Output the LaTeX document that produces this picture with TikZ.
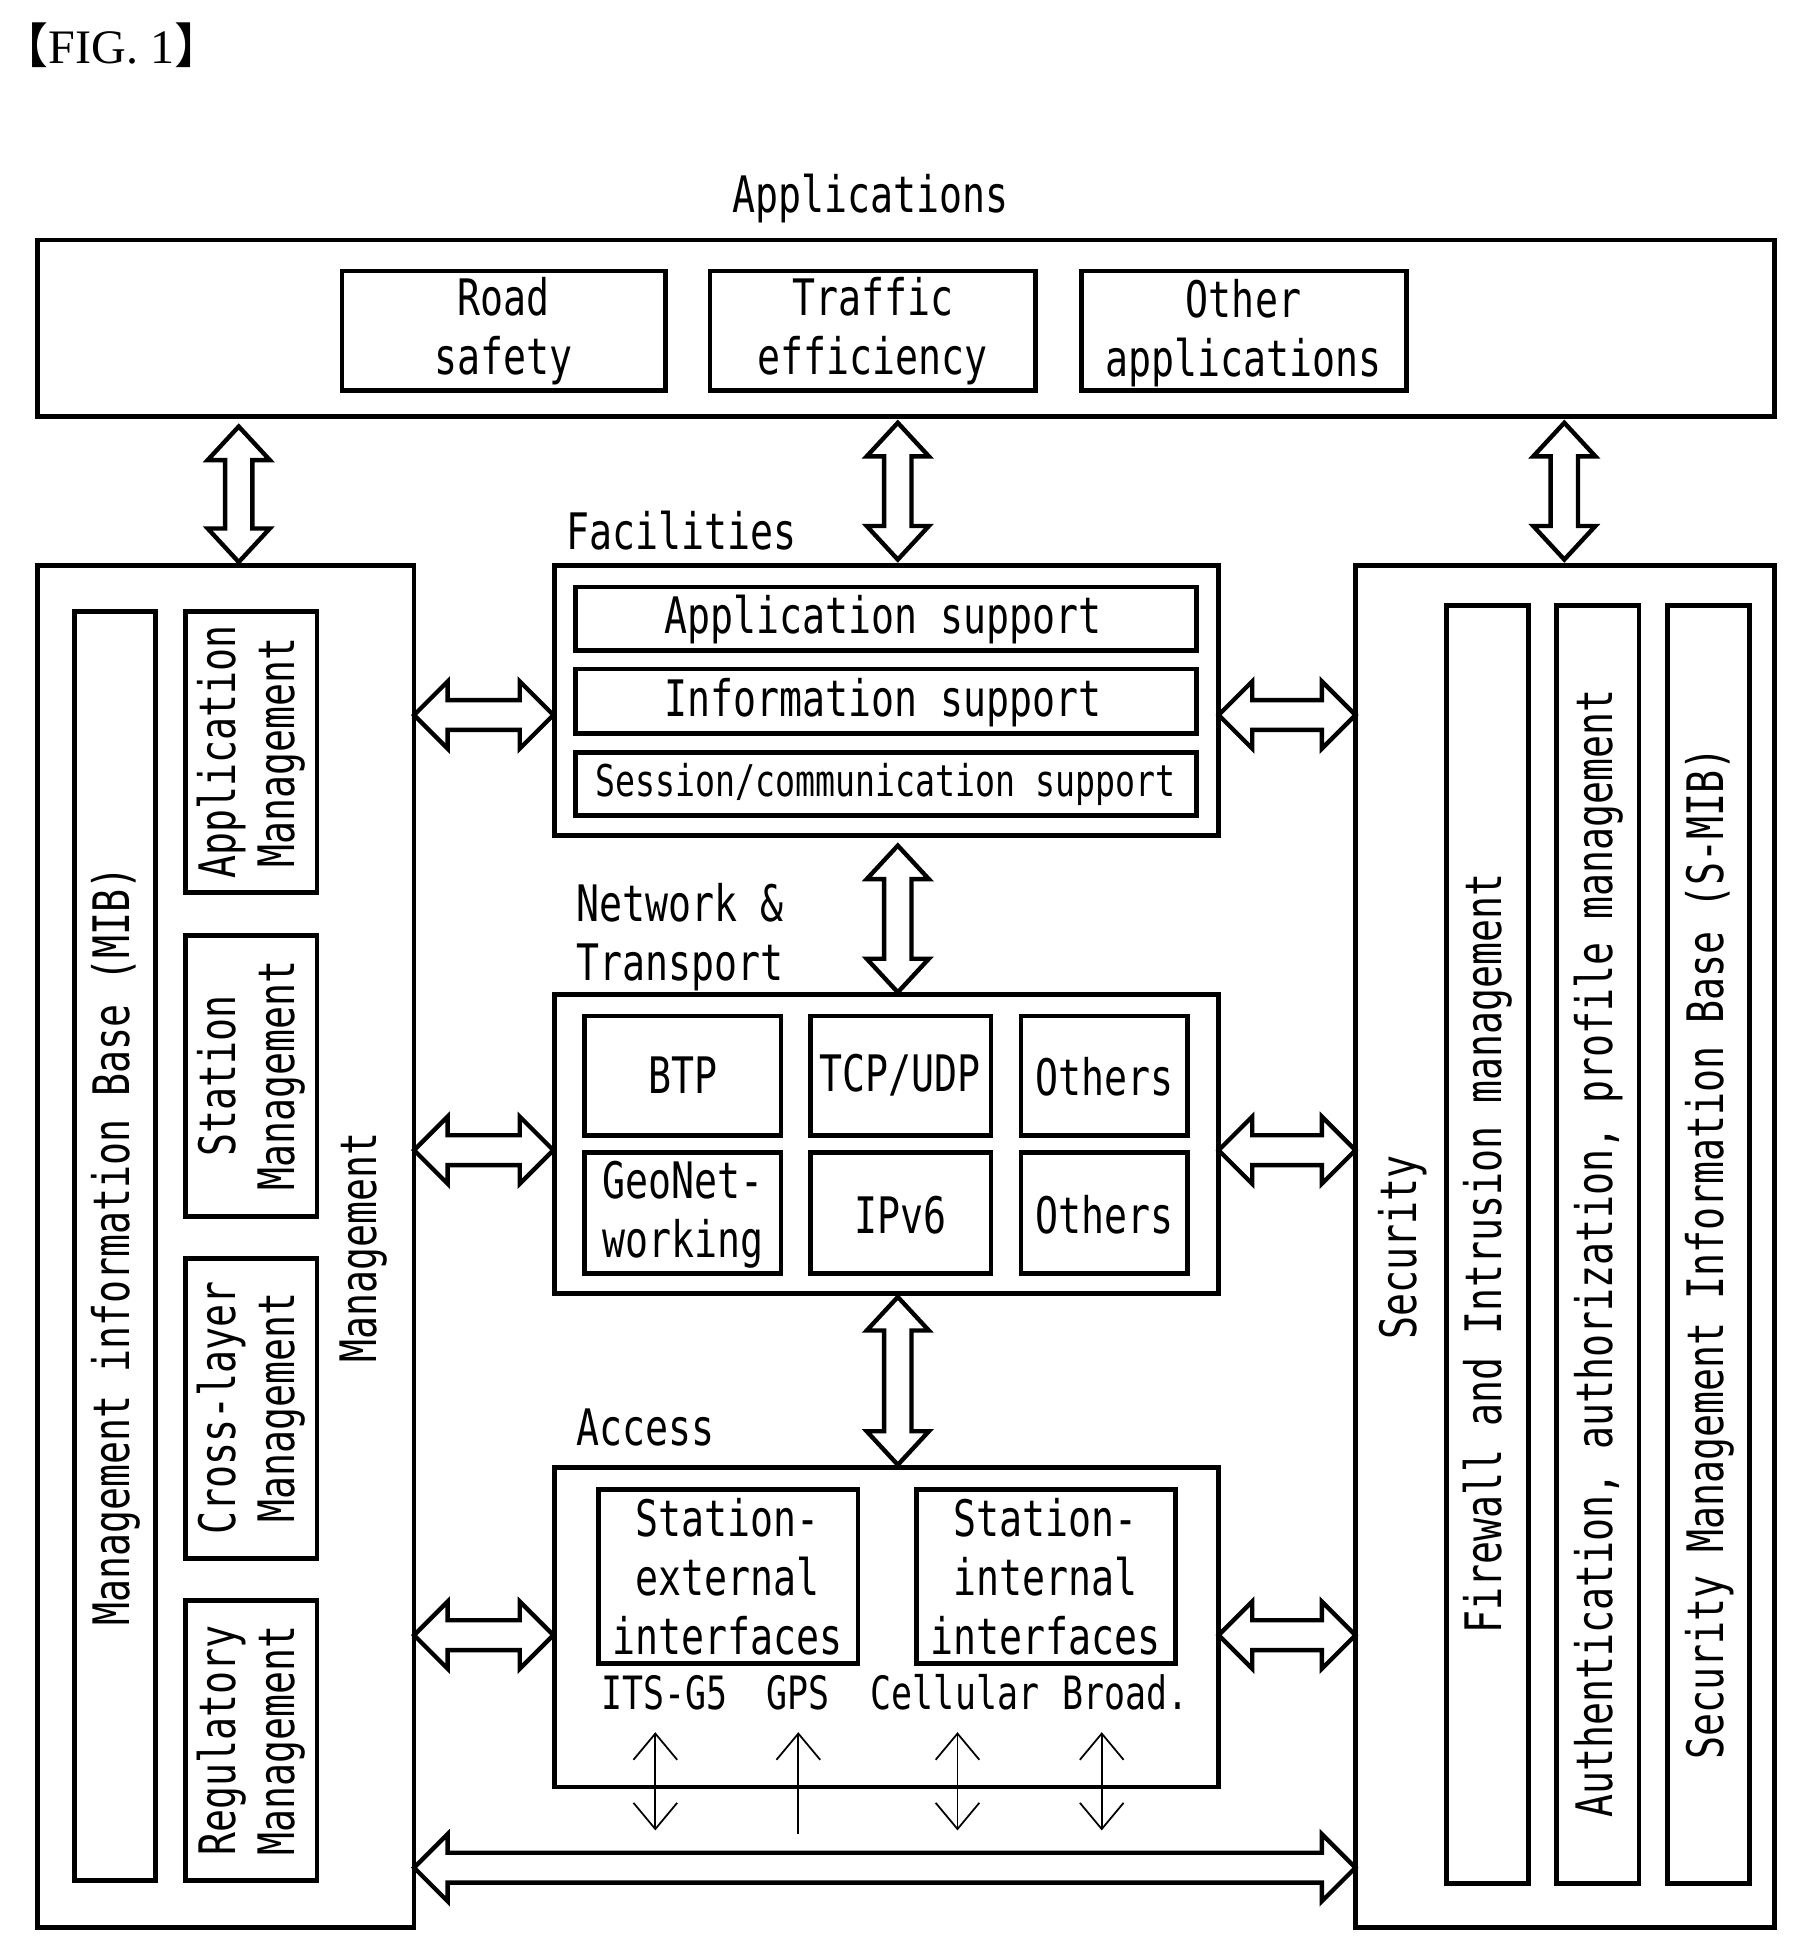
\documentclass[tikz,border=0pt]{standalone}
\usepackage{fontspec}
\setmainfont{DejaVu Sans Mono}[FakeStretch=0.76]
\newfontfamily\figfont{Liberation Serif}
\newfontfamily\cjk{Noto Sans CJK SC}
\usetikzlibrary{positioning,arrows.meta}

% hollow double arrows
\newcommand{\hdarrow}[3]{% x1, x2, y
  \draw[blk] (#1,#3) -- (#1+27,#3-27) -- (#1+27,#3-12) -- (#2-27,#3-12) -- (#2-27,#3-27)
    -- (#2,#3) -- (#2-27,#3+27) -- (#2-27,#3+12) -- (#1+27,#3+12) -- (#1+27,#3+27) -- cycle;}
\newcommand{\vdarrow}[3]{% y1, y2, x
  \draw[blk] (#3,#1) -- (#3-25,#1+27) -- (#3-11,#1+27) -- (#3-11,#2-27) -- (#3-25,#2-27)
    -- (#3,#2) -- (#3+25,#2-27) -- (#3+11,#2-27) -- (#3+11,#1+27) -- (#3+25,#1+27) -- cycle;}

\begin{document}
\begin{tikzpicture}[x=0.01cm,y=-0.01cm,
  blk/.style={line width=1pt},
  box/.style={draw,line width=1.1pt},
  txt/.style={font=\fontsize{11.5}{13.5}\selectfont,align=center,inner sep=0pt},
  sml/.style={font=\fontsize{10.5}{12}\selectfont,inner sep=0pt},
  barb/.style={thin,>={Straight Barb[length=6pt,width=10pt]}}]
\useasboundingbox (0,0) rectangle (1450,1573);

\node[font=\figfont\fontsize{11}{13}\selectfont,anchor=west,inner sep=0pt] (fig) at (0,36) {{\cjk【}FIG. 1{\cjk】}};

% applications
\node[txt] (applbl) at (700,160) {Applications};
\draw[box] (30,193) rectangle (1427,335);
\draw[box] (275,218) rectangle (535,314);
\node[txt] (road) at (405,266) {Road\\safety};
\draw[box] (571,218) rectangle (833,314);
\node[txt] (traffic) at (702,266) {Traffic\\efficiency};
\draw[box] (870,218) rectangle (1131,314);
\node[txt] (other) at (1000,268) {Other\\applications};

\vdarrow{343}{452}{192}
\vdarrow{340}{450}{722}
\vdarrow{340}{450}{1258}

% management
\draw[box] (30,455) rectangle (333,1550);
\draw[box] (60,492) rectangle (125,1512);
\node[txt,rotate=90] (mib) at (93,1002) {Management information Base (MIB)};
\draw[box] (149,492) rectangle (255,718);
\node[txt,rotate=90] (appm) at (202,605) {Application\\Management};
\draw[box] (149,752) rectangle (255,978);
\node[txt,rotate=90] (stam) at (202,865) {Station\\Management};
\draw[box] (149,1012) rectangle (255,1253);
\node[txt,rotate=90] (crossm) at (202,1132) {Cross-layer\\Management};
\draw[box] (149,1287) rectangle (255,1512);
\node[txt,rotate=90] (regm) at (202,1400) {Regulatory\\Management};
\node[txt,rotate=90] (mgmt) at (292,1003) {Management};

% facilities
\node[txt] (faclbl) at (548,427) {Facilities};
\draw[box] (446,455) rectangle (980,672);
\draw[box] (463,472) rectangle (962,523);
\node[txt] (appsup) at (710,498) {Application support};
\draw[box] (463,538) rectangle (962,590);
\node[txt] (infsup) at (710,565) {Information support};
\draw[box] (463,605) rectangle (962,656);
\node[txt,font=\fontsize{10}{12}\selectfont] (sesup) at (712,631) {Session/communication support};

\vdarrow{680}{798}{722}

% network & transport
\node[txt,align=left,anchor=west] (ntlbl) at (463,754) {Network \&\\Transport};
\draw[box] (446,800) rectangle (980,1040);
\draw[box] (470,817) rectangle (628,913);
\node[txt] (btp) at (549,865) {BTP};
\draw[box] (652,817) rectangle (797,913);
\node[txt] (tcp) at (724,865) {TCP/UDP};
\draw[box] (821,817) rectangle (955,913);
\node[txt] (oth1) at (888,866) {Others};
\draw[box] (470,927) rectangle (628,1024);
\node[txt,align=left] (geo) at (549,977) {GeoNet-\\working};
\draw[box] (652,927) rectangle (797,1024);
\node[txt] (ipv6) at (724,977) {IPv6};
\draw[box] (821,927) rectangle (955,1024);
\node[txt] (oth2) at (888,977) {Others};

\vdarrow{1043}{1178}{722}

% access
\node[txt,anchor=west] (acclbl) at (463,1148) {Access};
\draw[box] (446,1180) rectangle (980,1437);
\draw[box] (481,1198) rectangle (690,1338);
\node[txt] (ext) at (585,1268) {Station-\\external\\interfaces};
\draw[box] (737,1198) rectangle (945,1338);
\node[txt] (int) at (841,1268) {Station-\\internal\\interfaces};
\node[sml] (its) at (534,1361) {ITS-G5};
\node[sml] (gps) at (642,1361) {GPS};
\node[sml] (cell) at (768,1361) {Cellular};
\node[sml] (broad) at (905,1361) {Broad.};
\coordinate (itsb) at (527,1472);
\coordinate (gpsb) at (642,1475);
\coordinate (cellb) at (770,1472);
\coordinate (broadb) at (886,1472);
\draw[barb,<->] (527,1393) -- (itsb);
\draw[barb,->] (gpsb) -- (642,1393);
\draw[barb,<->] (770,1393) -- (cellb);
\draw[barb,<->] (886,1393) -- (broadb);

\hdarrow{333}{445}{575}
\hdarrow{333}{445}{925}
\hdarrow{333}{445}{1315}
\hdarrow{980}{1090}{575}
\hdarrow{980}{1090}{925}
\hdarrow{980}{1090}{1315}
\hdarrow{333}{1090}{1502}

% security
\draw[box] (1090,455) rectangle (1427,1550);
\node[txt,rotate=90] (sec) at (1128,1003) {Security};
\draw[box] (1163,487) rectangle (1229,1515);
\node[txt,rotate=90] (fw) at (1196,1008) {Firewall and Intrusion management};
\draw[box] (1252,487) rectangle (1318,1515);
\node[txt,rotate=90] (auth) at (1286,1008) {Authentication, authorization, profile management};
\draw[box] (1341,487) rectangle (1407,1515);
\node[txt,rotate=90] (smib) at (1375,1008) {Security Management Information Base (S-MIB)};
\end{tikzpicture}
\end{document}
